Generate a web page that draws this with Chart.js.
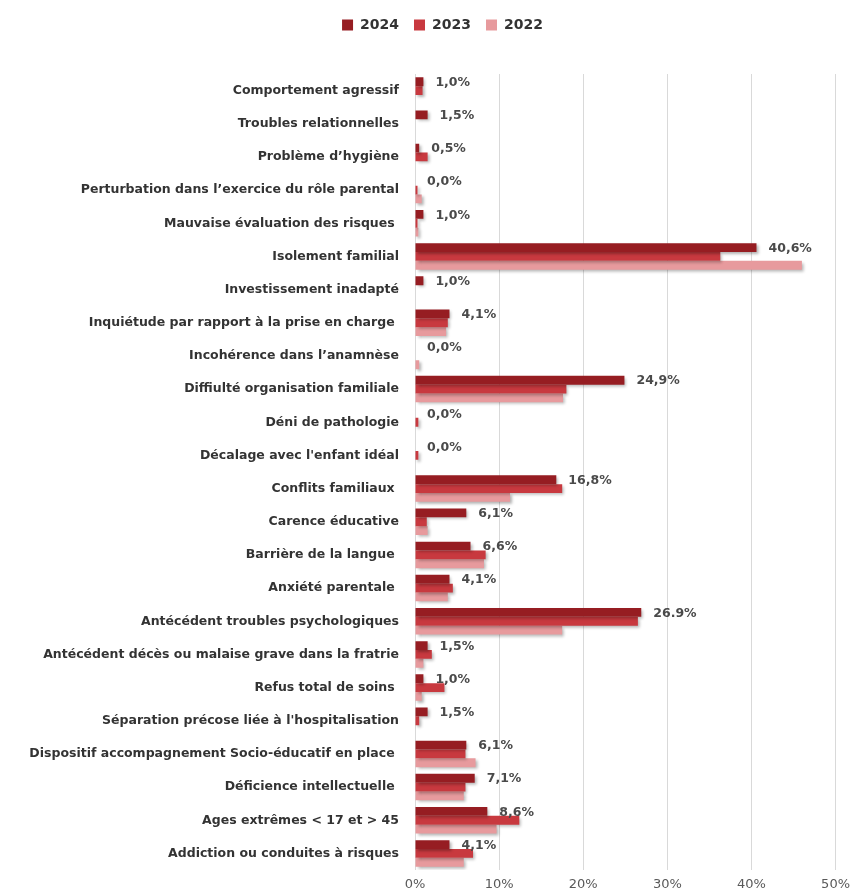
<!DOCTYPE html>
<html>
<head>
<meta charset="utf-8">
<script src="https://cdn.jsdelivr.net/npm/chart.js@4/dist/chart.umd.min.js"></script>
<style>
  html, body { margin: 0; padding: 0; background: #fff; }
  #wrap { width: 857px; height: 894px; }
</style>
</head>
<body>
<div id="wrap"><canvas id="chart"></canvas></div>
<script>
const categories = [
    "Comportement agressif",
    "Troubles relationnelles",
    "Problème d’hygiène",
    "Perturbation dans l’exercice du rôle parental",
    "Mauvaise évaluation des risques ",
    "Isolement familial",
    "Investissement inadapté",
    "Inquiétude par rapport à la prise en charge ",
    "Incohérence dans l’anamnèse",
    "Diffiulté organisation familiale",
    "Déni de pathologie",
    "Décalage avec l'enfant idéal",
    "Conflits familiaux ",
    "Carence éducative",
    "Barrière de la langue ",
    "Anxiété parentale ",
    "Antécédent troubles psychologiques",
    "Antécédent décès ou malaise grave dans la fratrie",
    "Refus total de soins ",
    "Séparation précose liée à l'hospitalisation",
    "Dispositif accompagnement Socio-éducatif en place ",
    "Déficience intellectuelle ",
    "Ages extrêmes < 17 et > 45",
    "Addiction ou conduites à risques"
];

const values2024 = [1.0, 1.5, 0.5, 0.0, 1.0, 40.6, 1.0, 4.1, 0.0, 24.9, 0.0, 0.0, 16.8, 6.1, 6.6, 4.1, 26.9, 1.5, 1.0, 1.5, 6.1, 7.1, 8.6, 4.1];
const values2023 = [0.9, 0.0, 1.5, 0.3, 0.3, 36.3, 0.0, 3.9, 0.0, 18.0, 0.4, 0.4, 17.5, 1.4, 8.4, 4.5, 26.5, 2.0, 3.5, 0.5, 6.0, 6.0, 12.4, 6.9];
const values2022 = [0.0, 0.0, 0.0, 0.8, 0.4, 46.0, 0.0, 3.7, 0.5, 17.6, 0.0, 0.0, 11.3, 1.5, 8.2, 3.9, 17.5, 1.0, 0.8, 0.0, 7.2, 5.8, 9.7, 5.8];

// labels printed next to the 2024 bars, as written on the original
const labels2024 = ["1,0%", "1,5%", "0,5%", "0,0%", "1,0%", "40,6%", "1,0%", "4,1%", "0,0%", "24,9%", "0,0%", "0,0%", "16,8%", "6,1%", "6,6%", "4,1%", "26.9%", "1,5%", "1,0%", "1,5%", "6,1%", "7,1%", "8,6%", "4,1%"];

const xTicks = [0, 10, 20, 30, 40, 50];

const FONT = "'DejaVu Sans', sans-serif";

// push the plot down below the legend, and nudge the legend a bit right
const legendMargin = {
    id: "legendMargin",
    beforeInit(chart) {
        const fit = chart.legend.fit;
        chart.legend.fit = function () {
            fit.bind(chart.legend)();
            this.height += 32;
        };
    },
    afterLayout(chart) {
        chart.legend.left += 14;
        chart.legend.right += 14;
    }
};

// soft grey drop shadow under the bars
const barShadow = {
    id: "barShadow",
    beforeDatasetsDraw(chart) {
        const ctx = chart.ctx;
        ctx.save();
        ctx.shadowColor = "rgba(0,0,0,0.30)";
        ctx.shadowBlur = 3;
        ctx.shadowOffsetX = 2;
        ctx.shadowOffsetY = 2;
    },
    afterDatasetsDraw(chart) {
        chart.ctx.restore();
    }
};

// value labels for the 2024 series
const valueLabels = {
    id: "valueLabels",
    afterDatasetsDraw(chart) {
        const ctx = chart.ctx;
        const meta = chart.getDatasetMeta(0);
        ctx.save();
        ctx.font = "bold 12.5px " + FONT;
        ctx.fillStyle = "#4a4a4a";
        ctx.textAlign = "left";
        ctx.textBaseline = "middle";
        meta.data.forEach((bar, i) => {
            ctx.fillText(labels2024[i], bar.x + 12, bar.y + 1);
        });
        ctx.restore();
    }
};

new Chart(document.getElementById("chart"), {
    type: "bar",
    data: {
        labels: categories,
        datasets: [
            { label: "2024", data: values2024, backgroundColor: "#961d22" },
            { label: "2023", data: values2023, backgroundColor: "#c8393f" },
            { label: "2022", data: values2022, backgroundColor: "#e79a9d" }
        ]
    },
    options: {
        indexAxis: "y",
        responsive: true,
        maintainAspectRatio: false,
        animation: false,
        layout: { padding: { top: 3, right: 0, bottom: 0, left: 0 } },
        datasets: {
            bar: { barPercentage: 1.0, categoryPercentage: 0.8 }
        },
        plugins: {
            legend: {
                position: "top",
                align: "center",
                labels: {
                    boxWidth: 11,
                    boxHeight: 11,
                    padding: 15,
                    color: "#333",
                    font: { family: FONT, size: 14, weight: "bold" }
                }
            },
            tooltip: { enabled: false }
        },
        scales: {
            x: {
                min: 0,
                max: 50,
                afterBuildTicks(scale) {
                    scale.ticks = xTicks.map(v => ({ value: v }));
                },
                afterFit(scale) { scale.height = 24; },
                ticks: {
                    color: "#595959",
                    padding: 7,
                    maxRotation: 0,
                    font: { family: FONT, size: 13 },
                    callback: v => v + "%"
                },
                grid: { color: "#d9d9d9", lineWidth: 1, drawTicks: false },
                border: { display: false }
            },
            y: {
                afterFit(scale) { scale.width = 415; },
                ticks: {
                    color: "#333",
                    padding: 16,
                    autoSkip: false,
                    font: { family: FONT, size: 12.5, weight: "bold" }
                },
                grid: { display: false, drawTicks: false },
                border: { display: false }
            }
        }
    },
    plugins: [legendMargin, barShadow, valueLabels]
});
</script>
</body>
</html>
